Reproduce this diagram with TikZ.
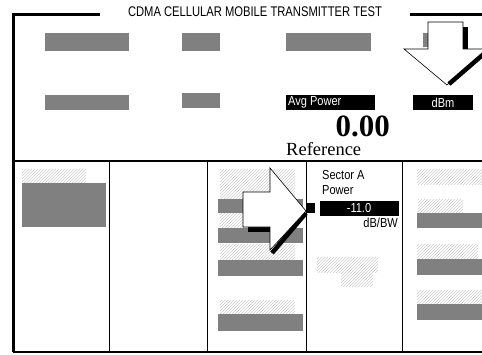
\documentclass[tikz,border=0pt]{standalone}
\usepackage{fontspec}
\setmainfont{Liberation Serif}
\newfontfamily\lcdfont[FakeStretch=0.85]{Liberation Sans}
\newfontfamily\titlefont[FakeStretch=0.8]{Liberation Sans}
\usetikzlibrary{patterns}
\definecolor{bargray}{RGB}{128,128,128}
\tikzset{
  bar/.style={fill=bargray,draw=none},
  hatch/.style={pattern=north east lines,pattern color=gray!40},
  blackbar/.style={fill=black,draw=none},
  lcd/.style={font=\lcdfont\fontsize{13}{13}\selectfont,inner sep=0pt},
  pointer/.style={fill=white,draw=black,line width=.6pt,line join=miter},
  shadow/.style={black,line width=4.5pt}
}
\begin{document}
\begin{tikzpicture}[x=1pt,y=-1pt]
\useasboundingbox (0,0) rectangle (482,354);
\begin{scope}
\clip (0,0) rectangle (482,354);
% frame
\draw[line width=3pt] (100,14) -- (13,14) -- (13,352);
\draw[line width=3pt] (410,14) -- (484,14);
\draw[line width=2pt] (13,352) -- (484,352);
\draw[line width=1.2pt] (13,161) -- (484,161);
\foreach \xx in {109,207,306,402}
  \draw[line width=1pt] (\xx,161) -- (\xx,352);
\node[inner sep=0pt,font=\titlefont\fontsize{14}{14}\selectfont] (title) at (255,12) {CDMA CELLULAR MOBILE TRANSMITTER TEST};
% upper fields
\fill[bar] (45,33) rectangle (129,51);
\fill[bar] (182,33) rectangle (220,51);
\fill[bar] (286,33) rectangle (371,51);
\fill[bar] (423,33) rectangle (428,47);
\fill[bar] (45,95) rectangle (129,110);
\fill[bar] (182,93) rectangle (220,108);
\fill[blackbar] (286,95) rectangle (375,110);
\fill[blackbar] (413,95) rectangle (473,110);
\node[lcd,text=white,anchor=west] (avg) at (288,102.5) {Avg Power};
\node[lcd,text=white] (unit) at (443,102.5) {dBm};
\node[font=\bfseries\fontsize{31}{31}\selectfont,inner sep=0pt,anchor=base east] (value) at (390,136) {0.00};
\node[font=\fontsize{18.5}{18.5}\selectfont,inner sep=0pt,anchor=base west] (ref) at (286,155) {Reference};
% down pointer
\draw[pointer] (428,22) -- (463,22) -- (463,49) -- (490,49) -- (447,85) -- (404,49) -- (428,49) -- cycle;
\fill[black] (463,27) rectangle (468,49);
\draw[shadow] (449,84) -- (486,52);
% lower left column
\fill[hatch] (22,169) rectangle (86,182);
\fill[bar] (22,183) rectangle (106,227);
% third column
\fill[hatch] (220,169) rectangle (295,198);
\fill[hatch] (220,213) rectangle (295,228);
\fill[hatch] (220,244) rectangle (295,259);
\fill[hatch] (220,300) rectangle (295,314);
\foreach \ya/\yb in {199/213,228/243,260/276,314/331}
  \fill[bar] (218,\ya) rectangle (303,\yb);
% sector column
\node[lcd,anchor=west] (sector) at (322,175) {Sector A};
\node[lcd,anchor=west] (power) at (322,190) {Power};
\fill[blackbar] (320,201) rectangle (399,216);
\node[lcd,text=white] (level) at (359,208.5) {-11.0};
\node[lcd,anchor=east] (dbbw) at (398,223) {dB/BW};
\fill[hatch] (317,257) rectangle (378,272);
\fill[hatch] (341,272) rectangle (373,286);
% right column
\fill[hatch] (417,169) rectangle (484,184);
\fill[hatch] (418,199) rectangle (463,213);
\fill[bar] (417,213) rectangle (484,228);
\fill[hatch] (417,244) rectangle (478,258);
\fill[bar] (417,259) rectangle (484,275);
\fill[hatch] (417,290) rectangle (484,304);
\fill[bar] (417,304) rectangle (484,320);
% right pointer
\fill[black] (248,227) rectangle (270,232);
\draw[shadow] (306,213) -- (272,253);
\draw[pointer] (243,192) -- (270,192) -- (270,168) -- (306,211) -- (270,250) -- (270,227) -- (243,227) -- cycle;
\fill[black] (306,203) rectangle (315,213);
\end{scope}
\end{tikzpicture}
\end{document}
